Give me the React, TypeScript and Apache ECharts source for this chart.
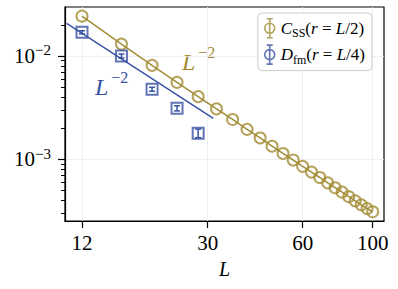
import React, { useEffect, useRef } from 'react';
import * as echarts from 'echarts';

const GOLD = '#a28c35';
const BLUE = '#3953a4';
const FONT = 'Liberation Serif';

// C_SS(r = L/2)
const L_CSS = [12, 16, 20, 24, 28, 32, 36, 40, 44, 48, 52, 56, 60, 64, 68, 72, 76, 80, 84, 88, 92, 96, 100];
const CSS = [0.02431, 0.01305, 0.00812, 0.00556, 0.00404, 0.00308, 0.00243, 0.00195, 0.00161, 0.00134, 0.00114,
  0.000985, 0.000855, 0.000752, 0.000667, 0.000592, 0.000531, 0.000481, 0.000435, 0.000397, 0.000363, 0.000334, 0.000311];
// D_fm(r = L/4)
const L_DFM = [12, 16, 20, 24, 28];
const DFM = [0.01696, 0.0100, 0.00477, 0.00312, 0.00179];
const DFM_ERR = [0.0006, 0.00045, 0.00021, 0.00018, 0.00017];
// L^-2 guide line for D_fm
const FIT_L = [10.73, 31.27];
const FIT_DFM = [0.0207, 0.00249];

const X_TICKS = [12, 30, 60, 100];
const Y_MAJOR = [0.001, 0.01];
const Y_MINOR = [0.0003, 0.0004, 0.0005, 0.0006, 0.0007, 0.0008, 0.0009,
  0.002, 0.003, 0.004, 0.005, 0.006, 0.007, 0.008, 0.009, 0.02];
const X_MIN = 10.6, X_MAX = 108.6, Y_MIN = 0.000253, Y_MAX = 0.0298;

export default function App() {
  const ref = useRef<HTMLDivElement>(null);
  useEffect(() => {
    document.body.style.margin = '0';
    const chart = echarts.init(ref.current!, undefined, { renderer: 'svg' });
    const axisTextStyle = { fontFamily: FONT, color: '#000' };
    const legendRich = {
      n: { fontSize: 17, fontFamily: FONT, fontStyle: 'normal', color: '#000', lineHeight: 22 },
      i: { fontSize: 17, fontFamily: FONT, fontStyle: 'italic', color: '#000', lineHeight: 22 },
      sub: { fontSize: 12, fontFamily: FONT, fontStyle: 'normal', color: '#000', lineHeight: 14, verticalAlign: 'bottom' },
    };
    const annRich = (c: string) => ({
      L: { fontSize: 24, fontFamily: FONT, fontStyle: 'italic', fill: c, lineHeight: 36 },
      s: { fontSize: 16, fontFamily: FONT, fontStyle: 'normal', fill: c, lineHeight: 14, verticalAlign: 'top', padding: [0, 0, 0, 3] },
    });
    const iconPath = 'path://M1,9.5 A5,5 0 1,1 11,9.5 A5,5 0 1,1 1,9.5 Z M6,0 L6,19 M3,0 L9,0 M3,19 L9,19';
    chart.setOption({
      animation: false,
      textStyle: { fontFamily: FONT },
      grid: { left: 65, right: 14, top: 7, bottom: 68, show: true, borderColor: '#000', borderWidth: 1.2, backgroundColor: 'transparent' },
      xAxis: {
        type: 'log', logBase: 10, min: X_MIN, max: X_MAX,
        axisLine: { show: true, lineStyle: { color: '#000', width: 1.2 } },
        axisTick: { show: true, customValues: X_TICKS, length: 7, lineStyle: { color: '#000', width: 1.2 } },
        axisLabel: { customValues: X_TICKS, formatter: (v: number) => String(Math.round(v)), fontSize: 21, margin: 11, ...axisTextStyle },
        splitLine: { show: true, lineStyle: { color: '#ececec', width: 0.8 } },
        minorTick: { show: false }, minorSplitLine: { show: false },
        name: 'L', nameLocation: 'middle', nameGap: 38,
        nameTextStyle: { fontSize: 20, fontStyle: 'italic', ...axisTextStyle },
      },
      yAxis: [
        {
          type: 'log', logBase: 10, min: Y_MIN, max: Y_MAX, position: 'left',
          axisLine: { show: true, lineStyle: { color: '#000', width: 1.2 } },
          axisTick: { show: true, customValues: Y_MAJOR, length: 7, lineStyle: { color: '#000', width: 1.2 } },
          axisLabel: {
            customValues: Y_MAJOR, margin: 14, fontFamily: FONT,
            formatter: (v: number) => `{b|10}{s|−${-Math.round(Math.log10(v))}}`,
            rich: {
              b: { fontSize: 21, fontFamily: FONT, color: '#000', lineHeight: 26 },
              s: { fontSize: 15, fontFamily: FONT, color: '#000', lineHeight: 19, verticalAlign: 'top' },
            },
          },
          splitLine: { show: true, lineStyle: { color: '#ececec', width: 0.8 } },
          minorTick: { show: false },
        },
        {
          type: 'log', logBase: 10, min: Y_MIN, max: Y_MAX, position: 'left', offset: 0,
          axisLine: { show: false },
          axisTick: { show: true, customValues: Y_MINOR, length: 4, lineStyle: { color: '#000', width: 1 } },
          axisLabel: { show: false },
          splitLine: { show: false },
        },
      ],
      legend: {
        orient: 'vertical', right: 26, top: 13,
        padding: [5, 7, 5, 6], itemGap: 5, itemWidth: 12, itemHeight: 19, itemTextGap: 7,
        borderColor: '#cccccc', borderWidth: 1, borderRadius: 4, backgroundColor: 'rgba(255,255,255,0.8)',
        textStyle: { fontFamily: FONT, fontSize: 17, color: '#000', rich: legendRich },
        formatter: (name: string) => name === 'css'
          ? '{i|C}{sub|SS}{n|(}{i|r}{n| = }{i|L}{n|/2)}'
          : '{i|D}{sub|fm}{n|(}{i|r}{n| = }{i|L}{n|/4)}',
        data: [
          { name: 'css', icon: iconPath, itemStyle: { color: 'rgba(0,0,0,0)', borderColor: GOLD, borderWidth: 1.6 } },
          { name: 'dfm', icon: iconPath, itemStyle: { color: 'rgba(0,0,0,0)', borderColor: BLUE, borderWidth: 1.6 } },
        ],
      },
      graphic: [
        { type: 'text', style: { text: '{L|L}{s|−2}', x: 182, y: 44, fontFamily: FONT, rich: annRich(GOLD) } },
        { type: 'text', style: { text: '{L|L}{s|−2}', x: 95, y: 69, fontFamily: FONT, rich: annRich(BLUE) } },
      ],
      series: [
        {
          type: 'line', name: 'cssLine', data: L_CSS.map((l, k) => [l, CSS[k]]),
          symbol: 'none', lineStyle: { color: GOLD, width: 1.5 }, silent: true, z: 2,
        },
        {
          type: 'scatter', name: 'css', data: L_CSS.map((l, k) => [l, CSS[k]]),
          symbol: 'circle', symbolSize: 11,
          itemStyle: { color: 'rgba(0,0,0,0)', borderColor: GOLD, borderWidth: 2 }, z: 3,
        },
        {
          type: 'line', name: 'fit', data: FIT_L.map((l, k) => [l, FIT_DFM[k]]),
          symbol: 'none', lineStyle: { color: BLUE, width: 1.5 }, silent: true, z: 2,
        },
        {
          type: 'custom', name: 'dfmErr',
          data: L_DFM.map((l, k) => [l, DFM[k] - DFM_ERR[k], DFM[k] + DFM_ERR[k]]),
          encode: { x: 0, y: [1, 2] },
          renderItem: (params: any, api: any) => {
            const x = api.value(0);
            const p1 = api.coord([x, api.value(1)]);
            const p2 = api.coord([x, api.value(2)]);
            const w = 3;
            const st = { stroke: BLUE, lineWidth: 1.5 };
            return {
              type: 'group', children: [
                { type: 'line', shape: { x1: p1[0], y1: p1[1], x2: p2[0], y2: p2[1] }, style: st },
                { type: 'line', shape: { x1: p1[0] - w, y1: p1[1], x2: p1[0] + w, y2: p1[1] }, style: st },
                { type: 'line', shape: { x1: p2[0] - w, y1: p2[1], x2: p2[0] + w, y2: p2[1] }, style: st },
              ],
            };
          },
          z: 3,
        },
        {
          type: 'scatter', name: 'dfm', data: L_DFM.map((l, k) => [l, DFM[k]]),
          symbol: 'rect', symbolSize: 11,
          itemStyle: { color: 'rgba(0,0,0,0)', borderColor: BLUE, borderWidth: 2 }, z: 3,
        },
      ],
    });
    return () => chart.dispose();
  }, []);
  return <div ref={ref} style={{ width: 398, height: 289 }} />;
}
